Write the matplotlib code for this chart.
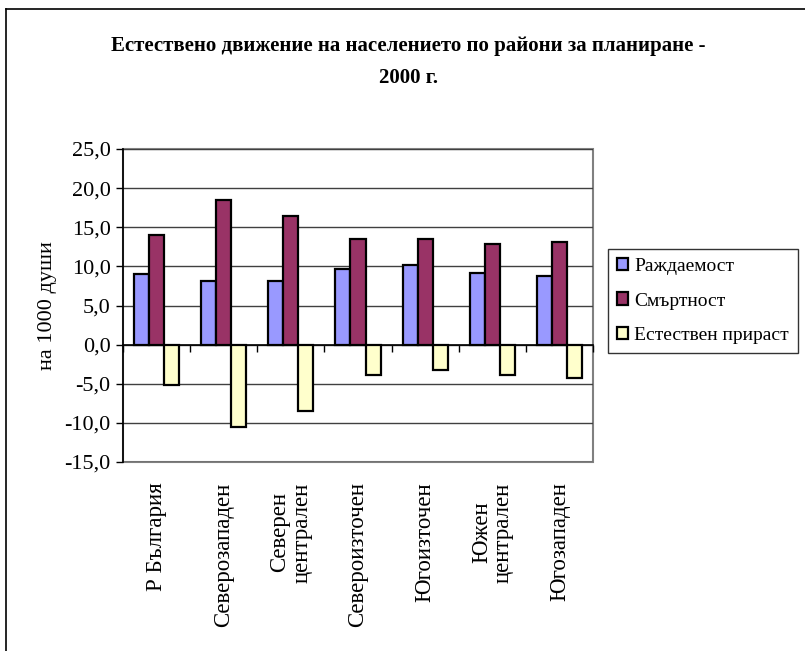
import matplotlib
matplotlib.use("Agg")
import matplotlib.pyplot as plt
import numpy as np
from matplotlib.lines import Line2D
from matplotlib.patches import Rectangle
from matplotlib.ticker import FuncFormatter, MultipleLocator

regions = ["Р България", "Северозападен", "Северен\nцентрален", "Североизточен",
           "Югоизточен", "Южен\nцентрален", "Югозападен"]
series_names = ["Раждаемост", "Смъртност", "Естествен прираст"]
births = [9.0, 8.1, 8.1, 9.7, 10.2, 9.1, 8.8]
deaths = [14.0, 18.5, 16.4, 13.5, 13.5, 12.9, 13.1]
natural_growth = [-5.1, -10.5, -8.5, -3.9, -3.3, -3.9, -4.3]
colors = ["#9999FF", "#993366", "#FFFFCC"]

title = "Естествено движение на населението по райони за планиране -\n2000 г."
ylabel = "на 1000 души"

plt.rcParams["font.family"] = ["Liberation Serif", "DejaVu Serif"]

W, H = 805, 651
fig = plt.figure(figsize=(W / 100, H / 100), dpi=100)
fig.patch.set_facecolor("white")

# chart border (top and left edges; the rest lies outside the canvas)
fig.add_artist(Line2D([6 / W, 6 / W], [0, 1 - 9 / H], transform=fig.transFigure,
                      color="black", linewidth=1.2))
fig.add_artist(Line2D([6 / W, 1], [1 - 9 / H, 1 - 9 / H], transform=fig.transFigure,
                      color="black", linewidth=1.2))

ax = fig.add_axes([123 / W, 1 - 462 / H, 470 / W, 313 / H])

x = np.arange(len(regions))
w = 0.224
data = [births, deaths, natural_growth]
handles = []
for i, (vals, col, name) in enumerate(zip(data, colors, series_names)):
    b = ax.bar(x + (i - 1) * w, vals, width=w, color=col, edgecolor="black",
               linewidth=1.6, label=name, zorder=3)
    handles.append(b)

ax.set_xlim(-0.5, len(regions) - 0.5)
ax.set_ylim(-15, 25)
ax.yaxis.set_major_locator(MultipleLocator(5))
ax.yaxis.set_major_formatter(FuncFormatter(lambda v, p: f"{v:.1f}".replace(".", ",")))
ax.grid(axis="y", color="#404040", linewidth=1.0, zorder=0)
ax.tick_params(axis="y", direction="out", length=5, width=1, labelsize=16, pad=4)

# category axis crosses at zero
for s in ["top", "right"]:
    ax.spines[s].set_visible(False)
ax.spines["left"].set_linewidth(1.2)
ax.spines["bottom"].set_position(("data", 0))
ax.spines["bottom"].set_linewidth(1.2)
ax.set_xticks(np.arange(len(regions) + 1) - 0.5)
ax.set_xticklabels([])
ax.tick_params(axis="x", direction="out", length=5, width=1)
ax.add_patch(Rectangle((0, 0), 1, 1, transform=ax.transAxes, fill=False,
                       edgecolor="#808080", linewidth=1.5, zorder=1, clip_on=False))

for xi, lab in zip(x, regions):
    ax.text(xi, -0.065, lab, transform=ax.get_xaxis_transform(), rotation=90,
            ha="center", va="top", multialignment="center", fontsize=16.5,
            linespacing=1.05)

ax.set_ylabel(ylabel, fontsize=16, labelpad=5)

fig.text(0.5 * (106 + 711) / W, 1 - 62 / H, title, ha="center", va="center",
         fontsize=15, fontweight="bold", linespacing=1.75)

leg = fig.legend(handles=handles, labels=series_names, loc="center left",
                 bbox_to_anchor=(608 / W, 1 - 301 / H), fontsize=14,
                 frameon=True, fancybox=False, edgecolor="black",
                 handlelength=0.6, handleheight=0.6, handletextpad=0.3,
                 labelspacing=0.9, borderpad=0.45, borderaxespad=0)
leg.get_frame().set_linewidth(1.0)

fig.savefig("out.png", dpi=100)
